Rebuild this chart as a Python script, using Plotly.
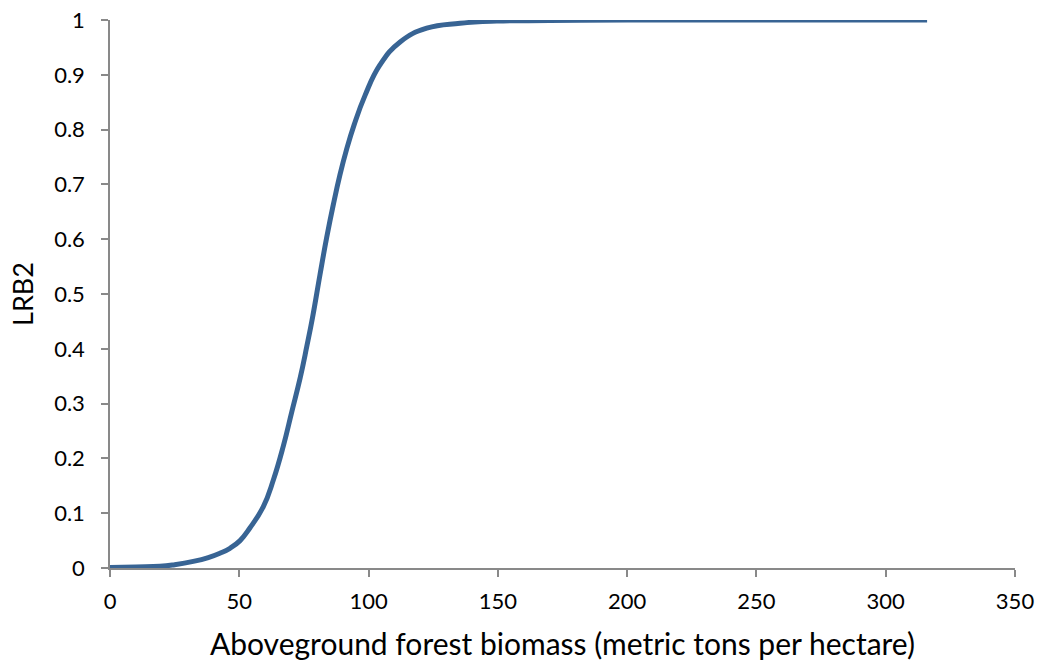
import plotly.graph_objects as go

biomass = [0, 10, 19.3, 25, 32.2, 38, 42.5, 46.4, 50.3, 54.1, 59.3, 63.2, 67.0, 70.3, 73.5,
           76.1, 78.4, 81.2, 83.8, 86.4, 88.9, 91.5, 94.5, 98.6, 104.4, 112.2, 122.5, 135.4,
           149.6, 170, 200, 250, 300, 316]
lrb2 = [0.001, 0.002, 0.003, 0.006, 0.012, 0.019, 0.027, 0.036, 0.050, 0.073, 0.112, 0.161,
        0.222, 0.285, 0.346, 0.404, 0.459, 0.535, 0.603, 0.664, 0.717, 0.764, 0.810, 0.862,
        0.918, 0.960, 0.985, 0.994, 0.998, 0.999, 1.0, 1.0, 1.0, 1.0]

x_ticks = [0, 50, 100, 150, 200, 250, 300, 350]
y_ticks = [0, 0.1, 0.2, 0.3, 0.4, 0.5, 0.6, 0.7, 0.8, 0.9, 1]
y_tick_labels = ["0", "0.1", "0.2", "0.3", "0.4", "0.5", "0.6", "0.7", "0.8", "0.9", "1"]

fig = go.Figure()
fig.add_trace(go.Scatter(x=biomass, y=lrb2, mode="lines",
                         line=dict(color="#386494", width=5, shape="spline", smoothing=1.3)))

axis_font = dict(family="Lato", size=22, color="#000000")
fig.update_layout(
    width=1039, height=661,
    margin=dict(l=110, r=24, t=20, b=93, autoexpand=False),
    paper_bgcolor="white", plot_bgcolor="white",
    showlegend=False,
    font=axis_font,
    xaxis=dict(range=[0, 350], tickvals=x_ticks, showgrid=False, zeroline=False,
               showline=True, linecolor="#898989", linewidth=1.5, automargin=False,
               ticks="outside", ticklen=7, tickcolor="#898989", tickwidth=1.5,
               tickfont=axis_font, ticklabelstandoff=6,
               title=dict(text="Aboveground forest biomass (metric tons per hectare)",
                          font=dict(family="Lato", size=30, color="#000000"), standoff=22)),
    yaxis=dict(range=[0, 1], tickvals=y_ticks, ticktext=y_tick_labels, showgrid=False, zeroline=False,
               showline=True, linecolor="#898989", linewidth=1.5, automargin=False,
               ticks="outside", ticklen=7, tickcolor="#898989", tickwidth=1.5,
               tickfont=axis_font, ticklabelstandoff=12,
               title=dict(text="LRB2", font=dict(family="Lato", size=27, color="#000000"), standoff=13)),
)

fig.write_html("out.html")
